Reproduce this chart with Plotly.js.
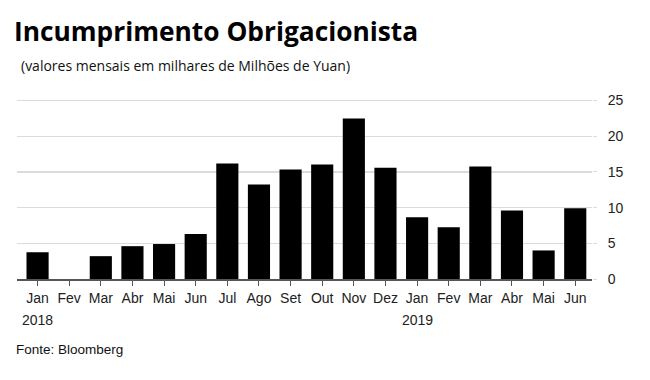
<!DOCTYPE html>
<html>
<head>
<meta charset="utf-8">
<script src="https://cdn.plot.ly/plotly-3.0.1.min.js"></script>
<style>html,body{margin:0;padding:0;background:#fff;}#chart{width:650px;height:380px;}</style>
</head>
<body>
<div id="chart"></div>
<script>
const months = ["Jan","Fev","Mar","Abr","Mai","Jun","Jul","Ago","Set","Out","Nov","Dez","Jan ","Fev ","Mar ","Abr ","Mai ","Jun "];
const tickLabels = ["Jan","Fev","Mar","Abr","Mai","Jun","Jul","Ago","Set","Out","Nov","Dez","Jan","Fev","Mar","Abr","Mai","Jun"];
const yearLabels = ["2018", "2019"];
const yearAt = ["Jan", "Jan "];
const values = [3.75, -0.3, 3.2, 4.6, 4.9, 6.3, 16.2, 13.25, 15.35, 16.05, 22.5, 15.6, 8.65, 7.25, 15.75, 9.6, 4.0, 9.9];
const yTicks = [0, 5, 10, 15, 20, 25];

const trace = {
  type: "bar",
  x: months,
  y: values,
  width: 0.7,
  marker: {color: "#000000", line: {width: 0}},
  cliponaxis: false,
  hoverinfo: "skip"
};

const M = {l: 17, r: 58, t: 97, b: 101};
const plotW = 650 - M.l - M.r, plotH = 380 - M.t - M.b;
function px(x) { return (x - M.l) / plotW; }
function py(y) { return (380 - M.b - y) / plotH; }

const annotations = [
  {text: "<b>Incumprimento Obrigacionista</b>", xref: "paper", yref: "paper",
   x: px(12), y: py(11), xanchor: "left", yanchor: "top", showarrow: false,
   font: {family: "Open Sans, sans-serif", size: 26.3, color: "#000"}},
  {text: "(valores mensais em milhares de Milhões de Yuan)", xref: "paper", yref: "paper",
   x: px(19), y: py(54), xanchor: "left", yanchor: "top", showarrow: false,
   font: {family: "Open Sans, sans-serif", size: 14, color: "#111"}},
  {text: "Fonte: Bloomberg", xref: "paper", yref: "paper",
   x: px(14), y: py(340), xanchor: "left", yanchor: "top", showarrow: false,
   font: {family: "Liberation Sans, Arial, sans-serif", size: 13.5, color: "#111"}}
];
yearLabels.forEach(function (t, i) {
  annotations.push({text: t, xref: "x", yref: "paper", x: yearAt[i], y: py(310),
    xanchor: "center", yanchor: "top", showarrow: false,
    font: {family: "Liberation Sans, Arial, sans-serif", size: 14, color: "#222"}});
});

const layout = {
  width: 650, height: 380,
  margin: M,
  paper_bgcolor: "#fff", plot_bgcolor: "#fff",
  showlegend: false,
  font: {family: "Liberation Sans, Arial, sans-serif", color: "#222"},
  xaxis: {
    type: "category",
    range: [-0.65, 17.53],
    tickmode: "array", tickvals: months, ticktext: tickLabels,
    showgrid: false, zeroline: false,
    showline: true, linecolor: "#555", linewidth: 1.5,
    ticks: "outside", ticklen: 5, tickcolor: "#555", tickwidth: 1,
    ticklabelstandoff: 1,
    tickfont: {size: 14, color: "#222"},
    fixedrange: true
  },
  yaxis: {
    side: "right",
    range: [0, 25.5],
    tickmode: "array", tickvals: yTicks,
    showgrid: true, gridcolor: "#dcdcdc", gridwidth: 1.3,
    zeroline: false, showline: false,
    ticks: "outside", ticklen: 4, tickcolor: "#dcdcdc",
    ticklabelstandoff: 8,
    tickfont: {size: 14, color: "#222"},
    fixedrange: true
  },
  annotations: annotations
};

Plotly.newPlot("chart", [trace], layout, {displayModeBar: false, staticPlot: true});
</script>
</body>
</html>
